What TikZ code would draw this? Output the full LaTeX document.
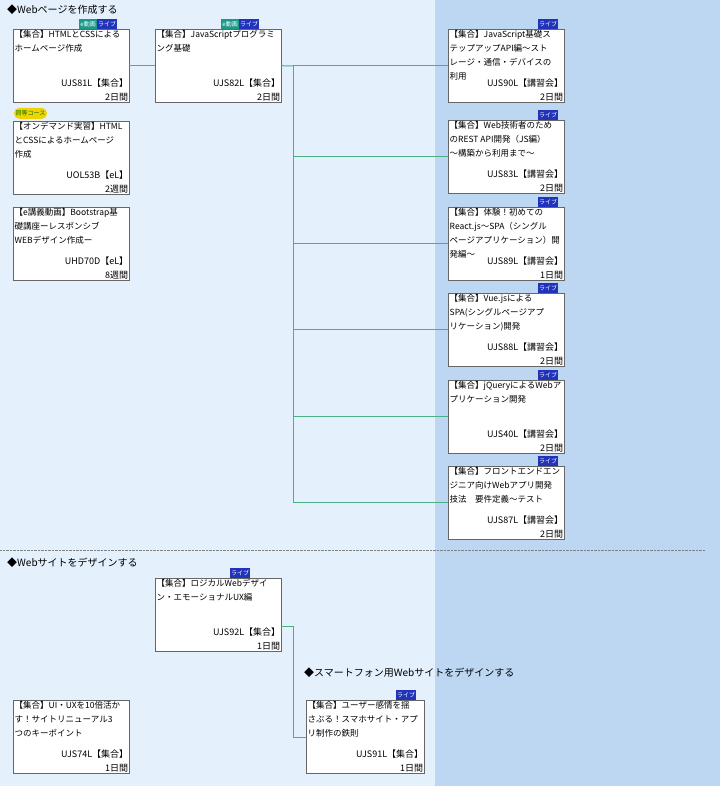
\documentclass[tikz,border=0pt]{standalone}
\usepackage{fontspec}
\setmainfont{Noto Sans CJK JP}
\usetikzlibrary{positioning}
\definecolor{bgleft}{HTML}{E4F0FC}
\definecolor{bgright}{HTML}{BDD7F2}
\definecolor{link}{HTML}{4DAF85}
\definecolor{livecol}{HTML}{2233BB}
\definecolor{evidcol}{HTML}{1A9A8A}
\definecolor{samecol}{HTML}{F2D200}
\tikzset{
  course/.style={draw=gray!80!black, fill=white, anchor=north west, minimum width=116pt, minimum height=73pt, inner sep=0pt},
  wide/.style={minimum width=126pt},
  ttl/.style={anchor=north west, align=left, inner sep=1.5pt, font=\fontsize{8.5}{13.8}\selectfont},
  cd/.style={anchor=south east, align=right, inner sep=1pt, font=\fontsize{9}{13.5}\selectfont},
  live/.style={fill=livecol, text=white, anchor=south east, inner sep=1pt, minimum height=9.5pt, font=\fontsize{6}{6}\selectfont},
  evid/.style={fill=evidcol, text=white, anchor=south east, inner sep=1pt, minimum height=9.5pt, font=\fontsize{6}{6}\selectfont},
  head/.style={anchor=west, inner sep=0pt, font=\fontsize{10}{12}\selectfont},
  conn/.style={draw=link, line width=1pt}
}
\begin{document}
\begin{tikzpicture}[x=1pt,y=-1pt]
    % background
    \fill[bgleft] (0,0) rectangle (435,786);
    \fill[bgright] (435,0) rectangle (720,786);
    \useasboundingbox (0,0) rectangle (720,786);
    \draw[gray, densely dotted] (0,550) -- (705,550);

    % headings
    \node[head] (h1) at (7,10) {◆Webページを作成する};
    \node[head] (h2) at (7,563) {◆Webサイトをデザインする};
    \node[head] (h3) at (304,673) {◆スマートフォン用Webサイトをデザインする};

    % left courses
    \node[course] (ujs81) at (13,29) {};
    \node[ttl] at (ujs81.north west) {【集合】HTMLとCSSによる\\ホームページ作成};
    \node[cd] at (ujs81.south east) {UJS81L【集合】\\2日間};
    \node[live] (l81) at ([xshift=-12pt]ujs81.north east) {ライブ};
    \node[evid,left=0pt of l81] {e動画};

    \node[course,wide] (ujs82) at (155,29) {};
    \node[ttl] at (ujs82.north west) {【集合】JavaScriptプログラミ\\ング基礎};
    \node[cd] at (ujs82.south east) {UJS82L【集合】\\2日間};
    \node[live] (l82) at ([xshift=-22pt]ujs82.north east) {ライブ};
    \node[evid,left=0pt of l82] {e動画};

    \node[course] (uol53) at (13,121) {};
    \node[ttl] at (uol53.north west) {【オンデマンド実習】HTML\\とCSSによるホームページ\\作成};
    \node[cd] at (uol53.south east) {UOL53B【eL】\\2週間};
    \node[fill=samecol, rounded corners=5pt, text=green!45!black, anchor=south west, inner sep=1.5pt, minimum height=11pt, font=\fontsize{6}{6}\selectfont] at ([xshift=1pt,yshift=2pt]uol53.north west) {同等コース};

    \node[course] (uhd70) at (13,207) {};
    \node[ttl] at (uhd70.north west) {【e講義動画】Bootstrap基\\礎講座ーレスポンシブ\\WEBデザイン作成ー};
    \node[cd] at (uhd70.south east) {UHD70D【eL】\\8週間};

    % right courses
    \node[course] (ujs90) at (448,29) {};
    \node[ttl] at (ujs90.north west) {【集合】JavaScript基礎ス\\テップアップAPI編～スト\\レージ・通信・デバイスの\\利用};
    \node[cd] at (ujs90.south east) {UJS90L【講習会】\\2日間};
    \node[live] at ([xshift=-6pt]ujs90.north east) {ライブ};

    \node[course] (ujs83) at (448,120) {};
    \node[ttl] at (ujs83.north west) {【集合】Web技術者のため\\のREST API開発（JS編）\\～構築から利用まで～};
    \node[cd] at (ujs83.south east) {UJS83L【講習会】\\2日間};
    \node[live] at ([xshift=-6pt]ujs83.north east) {ライブ};

    \node[course] (ujs89) at (448,207) {};
    \node[ttl] at (ujs89.north west) {【集合】体験！初めての\\React.js～SPA（シングル\\ページアプリケーション）開\\発編～};
    \node[cd] at (ujs89.south east) {UJS89L【講習会】\\1日間};
    \node[live] at ([xshift=-6pt]ujs89.north east) {ライブ};

    \node[course] (ujs88) at (448,293) {};
    \node[ttl] at (ujs88.north west) {【集合】Vue.jsによる\\SPA(シングルページアプ\\リケーション)開発};
    \node[cd] at (ujs88.south east) {UJS88L【講習会】\\2日間};
    \node[live] at ([xshift=-6pt]ujs88.north east) {ライブ};

    \node[course] (ujs40) at (448,380) {};
    \node[ttl] at (ujs40.north west) {【集合】jQueryによるWebア\\プリケーション開発};
    \node[cd] at (ujs40.south east) {UJS40L【講習会】\\2日間};
    \node[live] at ([xshift=-6pt]ujs40.north east) {ライブ};

    \node[course] (ujs87) at (448,466) {};
    \node[ttl] at (ujs87.north west) {【集合】フロントエンドエン\\ジニア向けWebアプリ開発\\技法　要件定義～テスト};
    \node[cd] at (ujs87.south east) {UJS87L【講習会】\\2日間};
    \node[live] at ([xshift=-6pt]ujs87.north east) {ライブ};

    % lower courses
    \node[course,wide] (ujs92) at (155,578) {};
    \node[ttl] at (ujs92.north west) {【集合】ロジカルWebデザイ\\ン・エモーショナルUX編};
    \node[cd] at (ujs92.south east) {UJS92L【集合】\\1日間};
    \node[live] at ([xshift=-31pt]ujs92.north east) {ライブ};

    \node[course] (ujs74) at (13,700) {};
    \node[ttl] at (ujs74.north west) {【集合】UI・UXを10倍活か\\す！サイトリニューアル3\\つのキーポイント};
    \node[cd] at (ujs74.south east) {UJS74L【集合】\\1日間};

    \node[course,minimum width=118pt] (ujs91) at (306,700) {};
    \node[ttl] at (ujs91.north west) {【集合】ユーザー感情を揺\\さぶる！スマホサイト・アプ\\リ制作の鉄則};
    \node[cd] at (ujs91.south east) {UJS91L【集合】\\1日間};
    \node[live] at ([xshift=-8pt]ujs91.north east) {ライブ};

    % Connections
    \coordinate (trunk) at (293,66);
    \draw[conn] (ujs81.east) -- (ujs82.west);
    \draw[conn] (ujs82.east) -- (trunk);
    \foreach \n in {ujs90,ujs83,ujs89,ujs88,ujs40,ujs87}
      \draw[conn] (trunk) |- (\n.west);
    \draw[conn] ([yshift=-12pt]ujs92.east) -- ++(12,0) |- ([yshift=-1pt]ujs91.west);
\end{tikzpicture}
\end{document}
